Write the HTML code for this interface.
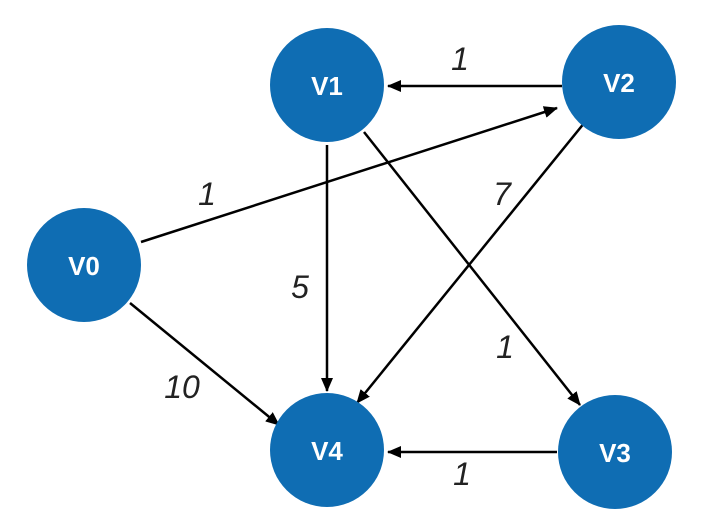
<!DOCTYPE html>
<html><head><style>body{margin:0;background:#fff}svg{display:block}</style></head>
<body>
<svg width="724" height="523" viewBox="0 0 724 523" xmlns="http://www.w3.org/2000/svg">
<defs><marker id="a" markerWidth="14" markerHeight="12" refX="13" refY="6" orient="auto" markerUnits="userSpaceOnUse"><path d="M0,0 L14,6 L0,12 Z" fill="#000"/></marker></defs>
<g stroke="#000" stroke-width="2.5" fill="none" marker-end="url(#a)">
<line x1="562" y1="86" x2="388" y2="86"/>
<line x1="141" y1="242" x2="557" y2="108"/>
<line x1="327" y1="145" x2="327" y2="391"/>
<line x1="585" y1="122" x2="357" y2="403"/>
<line x1="130" y1="303" x2="279" y2="425"/>
<line x1="364" y1="132" x2="580" y2="405"/>
<line x1="557" y1="452" x2="388" y2="452"/>
</g>
<g fill="#0f6db3">
<circle cx="327" cy="85" r="57"/><circle cx="619" cy="82" r="57"/>
<circle cx="84" cy="265" r="57"/><circle cx="327" cy="450" r="57"/>
<circle cx="615" cy="452" r="57"/>
</g>
<g fill="#fff" font-family="Liberation Sans, sans-serif" font-size="26" font-weight="bold" text-anchor="middle">
<text x="327" y="95">V1</text><text x="619" y="92">V2</text><text x="84" y="275">V0</text>
<text x="327" y="460">V4</text><text x="615" y="462">V3</text>
</g>
<g fill="#222" font-family="Liberation Sans, sans-serif" font-size="32" font-style="italic" text-anchor="middle">
<text x="460" y="70">1</text><text x="207" y="205">1</text><text x="502" y="205">7</text>
<text x="300" y="298">5</text><text x="182" y="398">10</text><text x="505" y="358">1</text>
<text x="462" y="485">1</text>
</g>
</svg>
</body></html>
